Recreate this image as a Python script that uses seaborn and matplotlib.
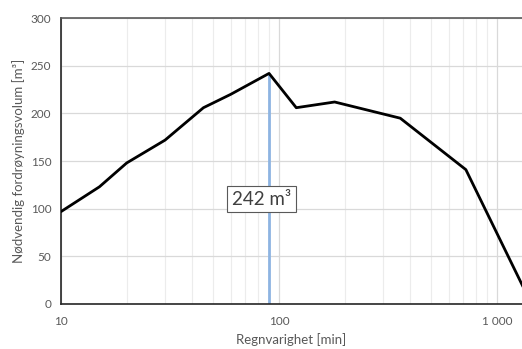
import numpy as np
import pandas as pd
import matplotlib
matplotlib.use("Agg")
import matplotlib.pyplot as plt
from matplotlib.ticker import FixedLocator, FixedFormatter, LogLocator, NullFormatter
import seaborn as sns

# regnvarighet [min] og nødvendig volum [m3]
varighet = [10, 15, 20, 30, 45, 60, 90, 120, 180, 360, 720, 1440]
volum = [97, 123, 148, 172, 206, 220, 242, 206, 212, 195, 141, 0]
maks_varighet = 90
maks_volum = 242
xticks = [10, 100, 1000]
xticklabels = ["10", "100", "1 000"]

sns.set_style("white")
plt.rcParams['font.family'] = ['Lato', 'DejaVu Sans']

df = pd.DataFrame({"varighet": varighet, "volum": volum})

fig = plt.figure(figsize=(5.22, 3.49), dpi=100)
ax = fig.add_axes([0.117, 0.129, 0.883, 0.819])

ax.set_xscale("log")
ax.set_xlim(10, 1303)
ax.set_ylim(0, 300)

# rutenett
ax.xaxis.set_minor_locator(LogLocator(base=10, subs=np.arange(2, 10)))
ax.xaxis.set_minor_formatter(NullFormatter())
ax.grid(True, which="major", color="#d9d9d9", linewidth=0.9)
ax.grid(True, which="minor", axis="x", color="#ececec", linewidth=0.8)
ax.set_axisbelow(True)

ax.vlines(maks_varighet, 0, maks_volum, color="#8db4e2", linewidth=2, zorder=2)
sns.lineplot(data=df, x="varighet", y="volum", color="black", linewidth=2, ax=ax, zorder=3)

ax.text(83, 110, "242 m³", fontsize=13.5, color="#404040", ha="center", va="center",
        bbox=dict(boxstyle="square,pad=0.25", facecolor="white", edgecolor="#595959", linewidth=0.8),
        zorder=4)

ax.xaxis.set_major_locator(FixedLocator(xticks))
ax.xaxis.set_major_formatter(FixedFormatter(xticklabels))
ax.set_yticks(np.arange(0, 301, 50))
ax.tick_params(axis="both", length=0, labelsize=8.5, labelcolor="#595959")
ax.tick_params(axis="x", pad=9)
ax.tick_params(axis="y", pad=7)

ax.set_xlabel("Regnvarighet [min]", fontsize=9.5, color="#595959", labelpad=4)
ax.set_ylabel("Nødvendig fordrøyningsvolum [m³]", fontsize=9.5, color="#595959", labelpad=4)

for side in ["left", "bottom"]:
    ax.spines[side].set_color("#262626")
    ax.spines[side].set_linewidth(1.2)
ax.spines["top"].set_color("#595959")
ax.spines["top"].set_linewidth(1.2)
ax.spines["right"].set_visible(False)

fig.savefig("out.png", dpi=100)
